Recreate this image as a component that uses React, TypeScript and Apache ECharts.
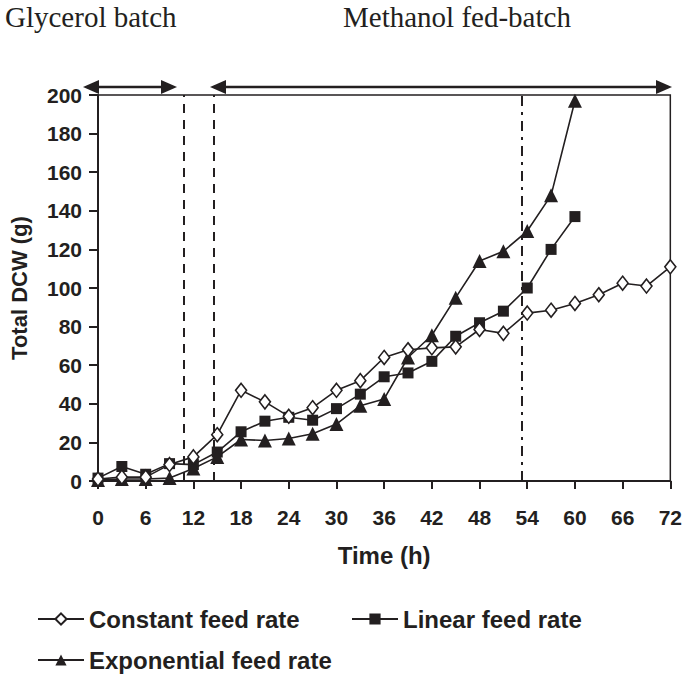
import React, { useEffect, useRef } from "react";
import * as echarts from "echarts";

const timeH = [0, 3, 6, 9, 12, 15, 18, 21, 24, 27, 30, 33, 36, 39, 42, 45, 48, 51, 54, 57, 60, 63, 66, 69, 72];
const constantFeed = [1, 2, 2, 8.5, 12.5, 24, 47, 41, 33.5, 38, 47, 52, 64, 68, 69, 69.5, 78.5, 76.5, 87, 88.5, 92, 96.5, 102.5, 101, 111];
const linearFeed = [1.5, 7.5, 3.5, 9, 8.5, 15, 25.5, 31, 33, 31.5, 37.5, 45, 54, 56, 62, 75, 82, 88, 100, 120, 137];
const exponentialFeed = [0.5, 1, 1, 1.5, 6.5, 12.5, 21.5, 21, 22, 24.5, 29.5, 39, 42.5, 64, 75.5, 95, 114, 119, 129.5, 148, 197];
const phaseLines = [10.8, 14.6];
const inductionLine = 53.3;
const seriesNames = ["Constant feed rate", "Linear feed rate", "Exponential feed rate"];
const phaseTitles = ["Glycerol batch", "Methanol fed-batch"];

const pair = (vals: number[]) => vals.map((v, i) => [timeH[i], v]);

export default function App() {
  const ref = useRef<HTMLDivElement>(null);
  useEffect(() => {
    document.body.style.margin = "0";
    const chart = echarts.init(ref.current!, null, { renderer: "svg" });
    const ink = "#231f20";
    const font = "Liberation Sans";
    const lineBase = {
      type: "line",
      lineStyle: { color: ink, width: 1.6 },
      z: 3,
    };
    chart.setOption({
      animation: false,
      backgroundColor: "#fff",
      grid: { left: 87, right: 14, top: 95, bottom: 193, show: true, borderColor: ink, borderWidth: 1.5, backgroundColor: "transparent" },
      xAxis: {
        type: "value",
        min: 0,
        max: 72,
        interval: 6,
        name: "Time (h)",
        nameLocation: "middle",
        nameGap: 62,
        nameTextStyle: { fontFamily: font, fontWeight: "bold", fontSize: 24, color: ink },
        axisLine: { lineStyle: { color: ink, width: 2 } },
        axisTick: { inside: false, length: 8, lineStyle: { color: ink, width: 2 } },
        axisLabel: { margin: 26, fontFamily: font, fontWeight: "bold", fontSize: 21, color: ink },
        splitLine: { show: false },
      },
      yAxis: {
        type: "value",
        min: 0,
        max: 200,
        interval: 20,
        name: "Total DCW (g)",
        nameLocation: "middle",
        nameGap: 68,
        nameTextStyle: { fontFamily: font, fontWeight: "bold", fontSize: 22, color: ink },
        axisLine: { lineStyle: { color: ink, width: 2 } },
        axisTick: { inside: false, length: 9, lineStyle: { color: ink, width: 2 } },
        axisLabel: { margin: 16, fontFamily: font, fontWeight: "bold", fontSize: 21, color: ink },
        splitLine: { show: false },
      },
      legend: [
        { data: [seriesNames[0]], left: 32, top: 602 },
        { data: [seriesNames[1]], left: 346, top: 602 },
        { data: [seriesNames[2]], left: 32, top: 643 },
      ].map((l) => ({
        ...l,
        itemWidth: 46,
        itemHeight: 14,
        itemGap: 0,
        textStyle: { fontFamily: font, fontWeight: "bold", fontSize: 24, color: ink },
      })),
      series: [
        {
          ...lineBase,
          name: seriesNames[0],
          data: pair(constantFeed),
          symbol: "diamond",
          symbolSize: [11, 14],
          itemStyle: { color: "#fff", borderColor: ink, borderWidth: 1.6 },
          z: 4,
          markLine: {
            silent: true,
            symbol: "none",
            label: { show: false },
            data: [
              ...phaseLines.map((x) => ({ xAxis: x, lineStyle: { type: [9, 7], color: ink, width: 2 } })),
              { xAxis: inductionLine, lineStyle: { type: [10, 6, 3, 6], color: ink, width: 2 } },
            ],
          },
        },
        {
          ...lineBase,
          name: seriesNames[1],
          data: pair(linearFeed),
          symbol: "rect",
          symbolSize: 11,
          itemStyle: { color: ink },
        },
        {
          ...lineBase,
          name: seriesNames[2],
          data: pair(exponentialFeed),
          symbol: "triangle",
          symbolSize: 14,
          itemStyle: { color: ink },
        },
      ],
      graphic: [
        { type: "text", left: 5, top: 2, style: { text: phaseTitles[0], font: "29px 'Liberation Serif'", fill: ink } },
        { type: "text", left: 343, top: 2, style: { text: phaseTitles[1], font: "29px 'Liberation Serif'", fill: ink } },
        { type: "line", shape: { x1: 92, y1: 87, x2: 168, y2: 87 }, style: { stroke: ink, lineWidth: 2.5 } },
        { type: "polygon", shape: { points: [[83, 87], [99, 80], [99, 94]] }, style: { fill: ink } },
        { type: "polygon", shape: { points: [[177, 87], [161, 80], [161, 94]] }, style: { fill: ink } },
        { type: "line", shape: { x1: 218, y1: 87, x2: 662, y2: 87 }, style: { stroke: ink, lineWidth: 2.5 } },
        { type: "polygon", shape: { points: [[210, 87], [226, 80], [226, 94]] }, style: { fill: ink } },
        { type: "polygon", shape: { points: [[672, 87], [656, 80], [656, 94]] }, style: { fill: ink } },
      ],
    });
    return () => chart.dispose();
  }, []);
  return <div ref={ref} style={{ width: 685, height: 674 }} />;
}
